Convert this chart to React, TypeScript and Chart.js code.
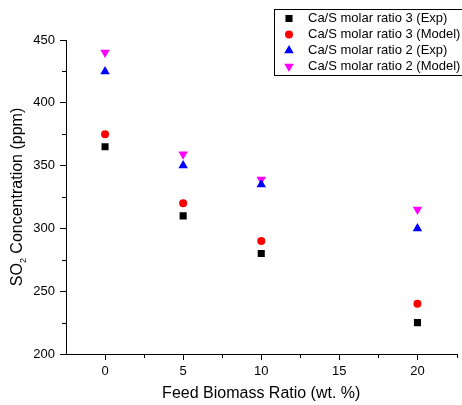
import React, { useEffect, useRef } from 'react';
import { Chart, registerables } from 'chart.js';
import { drawPoint } from 'chart.js/helpers';

Chart.register(...registerables);

const feedRatio = [0, 5, 10, 20];
const exp3 = [365, 310, 280, 225];
const model3 = [375, 320, 290, 240];
const exp2 = [425, 350, 335, 300];
const model2 = [440, 359, 339, 315];
const seriesLabels = [
  'Ca/S molar ratio 3 (Exp)',
  'Ca/S molar ratio 3 (Model)',
  'Ca/S molar ratio 2 (Exp)',
  'Ca/S molar ratio 2 (Model)',
];
const xTicks = [0, 5, 10, 15, 20];
const yTicks = [200, 250, 300, 350, 400, 450];
const xMinor = [2.5, 7.5, 12.5, 17.5, 22.5];
const yMinor = [225, 275, 325, 375, 425];
const xTitle = 'Feed Biomass Ratio (wt. %)';

const FONT = 'Arial, "Liberation Sans", sans-serif';

const styles = [
  { color: '#000000', pointStyle: 'rect', radius: 5, rotation: 0 },
  { color: '#ff0000', pointStyle: 'circle', radius: 4, rotation: 0 },
  { color: '#0000ff', pointStyle: 'triangle', radius: 5.5, rotation: 0 },
  { color: '#ff00ff', pointStyle: 'triangle', radius: 5.5, rotation: 180 },
];

const seriesValues = [exp3, model3, exp2, model2];

const decorPlugin = {
  id: 'decor',
  afterDraw(chart: any) {
    const ctx = chart.ctx as CanvasRenderingContext2D;
    const xs = chart.scales.x;
    const ys = chart.scales.y;
    const area = chart.chartArea;
    ctx.save();
    // minor ticks
    ctx.strokeStyle = '#000';
    ctx.lineWidth = 1;
    ctx.beginPath();
    xMinor.forEach((v) => {
      const px = Math.round(xs.getPixelForValue(v)) + 0.5;
      ctx.moveTo(px, area.bottom);
      ctx.lineTo(px, area.bottom + 4);
    });
    yMinor.forEach((v) => {
      const py = Math.round(ys.getPixelForValue(v)) + 0.5;
      ctx.moveTo(area.left, py);
      ctx.lineTo(area.left - 4, py);
    });
    ctx.stroke();

    // x title
    ctx.fillStyle = '#000';
    ctx.font = `16px ${FONT}`;
    ctx.textAlign = 'center';
    ctx.textBaseline = 'middle';
    ctx.fillText(xTitle, (area.left + area.right) / 2, 394);

    // y title with subscript
    const part1 = 'SO';
    const sub = '2';
    const part2 = ' Concentration (ppm)';
    ctx.font = `16px ${FONT}`;
    const w1 = ctx.measureText(part1).width;
    const w3 = ctx.measureText(part2).width;
    ctx.font = `9px ${FONT}`;
    const w2 = ctx.measureText(sub).width;
    const total = w1 + w2 + w3;
    ctx.translate(18, (area.top + area.bottom) / 2);
    ctx.rotate(-Math.PI / 2);
    ctx.textAlign = 'left';
    ctx.textBaseline = 'middle';
    let cx = -total / 2;
    ctx.font = `16px ${FONT}`;
    ctx.fillText(part1, cx, 0);
    cx += w1;
    ctx.font = `9px ${FONT}`;
    ctx.fillText(sub, cx, 6);
    cx += w2;
    ctx.font = `16px ${FONT}`;
    ctx.fillText(part2, cx, 0);
    ctx.restore();

    // legend
    ctx.save();
    ctx.strokeStyle = '#000';
    ctx.lineWidth = 1;
    ctx.strokeRect(274.5, 9.5, 200, 66);
    const rows = [18.5, 34.5, 50.5, 66.5];
    ctx.font = `13px ${FONT}`;
    ctx.textAlign = 'left';
    ctx.textBaseline = 'middle';
    seriesLabels.forEach((label, i) => {
      const s = styles[i];
      ctx.fillStyle = s.color;
      ctx.strokeStyle = s.color;
      drawPoint(ctx, { pointStyle: s.pointStyle, radius: s.radius, rotation: s.rotation, borderWidth: 0 } as any, 289, rows[i]);
      ctx.fillStyle = '#000';
      ctx.fillText(label, 308, rows[i]);
    });
    ctx.restore();
  },
};

export default function App() {
  const ref = useRef<HTMLCanvasElement | null>(null);
  useEffect(() => {
    if (!ref.current) return;
    const chart = new Chart(ref.current, {
      type: 'scatter',
      data: {
        datasets: seriesLabels.map((label, i) => ({
          label,
          data: feedRatio.map((x, j) => ({ x, y: seriesValues[i][j] })),
          backgroundColor: styles[i].color,
          borderColor: styles[i].color,
          borderWidth: 0,
          pointStyle: styles[i].pointStyle as any,
          pointRadius: styles[i].radius,
          pointHoverRadius: styles[i].radius,
          pointRotation: styles[i].rotation,
          showLine: false,
        })),
      },
      options: {
        animation: false,
        responsive: false,
        maintainAspectRatio: false,
        devicePixelRatio: 1,
        layout: { padding: { top: 40, right: 5, left: 0, bottom: 0 } },
        plugins: {
          legend: { display: false },
          tooltip: { enabled: false },
          title: { display: false },
        },
        scales: {
          x: {
            type: 'linear',
            min: -2.5,
            max: 22.5,
            afterFit: (s: any) => { s.height = 51; },
            afterBuildTicks: (s: any) => { s.ticks = xTicks.map((v) => ({ value: v })); },
            border: { display: true, color: '#000', width: 1 },
            grid: { display: true, drawOnChartArea: false, drawTicks: true, tickLength: 6, color: '#000' },
            ticks: { color: '#000', font: { family: FONT, size: 13 }, padding: 4, maxRotation: 0, autoSkip: false },
            title: { display: false },
          },
          y: {
            type: 'linear',
            min: 200,
            max: 450,
            afterFit: (s: any) => { s.width = 66; },
            afterBuildTicks: (s: any) => { s.ticks = yTicks.map((v) => ({ value: v })); },
            border: { display: true, color: '#000', width: 1 },
            grid: { display: true, drawOnChartArea: false, drawTicks: true, tickLength: 6, color: '#000' },
            ticks: { color: '#000', font: { family: FONT, size: 13 }, padding: 5, autoSkip: false },
            title: { display: false },
          },
        },
      },
      plugins: [decorPlugin],
    });
    return () => chart.destroy();
  }, []);
  return (
    <div style={{ position: 'absolute', left: 0, top: 0, width: 462, height: 405, background: '#fff' }}>
      <canvas ref={ref} width={462} height={405} style={{ width: 462, height: 405, display: 'block' }} />
    </div>
  );
}
